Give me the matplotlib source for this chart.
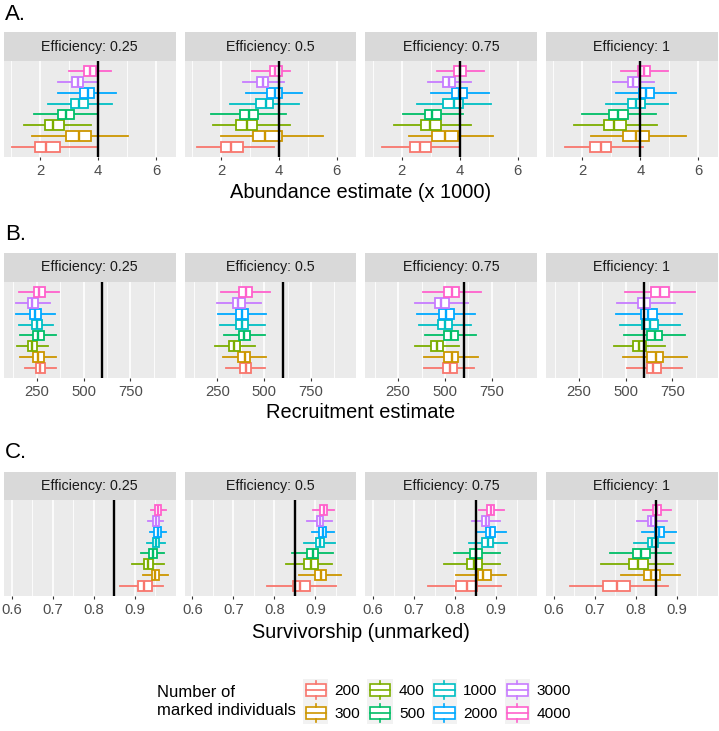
import matplotlib
matplotlib.use("Agg")
import matplotlib.pyplot as plt
from matplotlib.legend_handler import HandlerBase
from matplotlib.patches import Rectangle
from matplotlib.lines import Line2D

plt.rcParams['font.family'] = ['Liberation Sans', 'DejaVu Sans']

# marked individuals, bottom to top in each panel
groups = ["200", "300", "400", "500", "1000", "2000", "3000", "4000"]
colors = ["#F8766D", "#CD9600", "#7CAE00", "#00BE67", "#00BFC4", "#00A9FF", "#C77CFF", "#FF61CC"]
efficiency = ["0.25", "0.5", "0.75", "1"]

# A. abundance estimate (x 1000), one list per efficiency
abund_lo = [[1.02, 1.71, 1.45, 1.77, 2.27, 2.60, 2.60, 2.98],
            [1.17, 2.01, 1.72, 1.67, 2.32, 2.87, 2.76, 3.07],
            [1.33, 2.25, 1.73, 2.06, 2.52, 3.02, 2.90, 3.21],
            [1.39, 2.31, 1.70, 2.00, 2.81, 3.15, 3.04, 3.32]]
abund_q1 = [[1.80, 2.89, 2.17, 2.60, 3.07, 3.36, 3.10, 3.50],
            [2.00, 3.11, 2.52, 2.64, 3.20, 3.59, 3.26, 3.68],
            [2.29, 3.06, 2.66, 2.81, 3.44, 3.73, 3.44, 3.82],
            [2.25, 3.39, 2.75, 2.92, 3.59, 3.94, 3.57, 3.92]]
abund_med = [[2.21, 3.33, 2.44, 2.87, 3.35, 3.64, 3.29, 3.71],
             [2.36, 3.53, 2.90, 2.96, 3.55, 3.85, 3.45, 3.87],
             [2.63, 3.48, 2.98, 3.06, 3.79, 3.98, 3.64, 4.02],
             [2.63, 3.84, 3.10, 3.24, 3.85, 4.20, 3.76, 4.11]]
abund_q3 = [[2.67, 3.75, 2.81, 3.15, 3.64, 3.87, 3.46, 3.93],
            [2.75, 4.11, 3.26, 3.28, 3.81, 4.11, 3.62, 4.11],
            [3.00, 3.93, 3.36, 3.35, 4.11, 4.25, 3.85, 4.23],
            [3.00, 4.29, 3.51, 3.57, 4.15, 4.46, 3.94, 4.35]]
abund_hi = [[3.94, 5.03, 3.75, 4.00, 4.46, 4.62, 3.98, 4.45],
            [3.84, 5.52, 4.39, 4.25, 4.71, 4.79, 4.16, 4.37],
            [4.00, 5.15, 4.40, 4.10, 5.08, 5.00, 4.39, 4.83],
            [4.08, 5.58, 4.58, 4.55, 4.94, 5.24, 4.48, 4.94]]

# B. recruitment estimate
recr_lo = [[187, 161, 143, 161, 157, 137, 139, 157],
           [298, 280, 236, 285, 262, 254, 250, 268],
           [389, 389, 341, 392, 362, 353, 341, 380],
           [505, 487, 437, 491, 470, 446, 452, 496]]
recr_q1 = [[245, 232, 202, 232, 223, 214, 205, 237],
           [371, 362, 312, 365, 347, 347, 333, 365],
           [490, 496, 428, 496, 464, 469, 447, 496],
           [614, 614, 539, 616, 589, 580, 568, 634]]
recr_med = [[268, 259, 223, 259, 250, 241, 227, 264],
            [401, 395, 339, 392, 379, 379, 360, 401],
            [526, 535, 456, 531, 499, 504, 478, 536],
            [648, 661, 571, 655, 630, 621, 598, 682]]
recr_q3 = [[295, 286, 250, 286, 277, 271, 254, 295],
           [427, 424, 371, 422, 413, 415, 397, 432],
           [562, 572, 487, 567, 535, 549, 519, 576],
           [689, 702, 607, 696, 670, 666, 629, 732]]
recr_hi = [[352, 354, 312, 352, 339, 345, 321, 371],
           [505, 507, 450, 503, 502, 511, 484, 530],
           [656, 679, 576, 668, 641, 661, 625, 691],
           [800, 827, 711, 818, 791, 800, 764, 870]]

# C. survivorship (unmarked)
surv_lo = [[0.864, 0.921, 0.894, 0.915, 0.929, 0.937, 0.932, 0.939],
           [0.783, 0.861, 0.829, 0.844, 0.873, 0.891, 0.880, 0.895],
           [0.734, 0.803, 0.773, 0.796, 0.834, 0.853, 0.841, 0.857],
           [0.639, 0.763, 0.716, 0.738, 0.795, 0.814, 0.803, 0.817]]
surv_q1 = [[0.909, 0.941, 0.923, 0.936, 0.945, 0.948, 0.944, 0.950],
           [0.845, 0.899, 0.873, 0.880, 0.901, 0.909, 0.903, 0.911],
           [0.802, 0.855, 0.829, 0.836, 0.865, 0.875, 0.865, 0.877],
           [0.720, 0.820, 0.783, 0.793, 0.830, 0.846, 0.829, 0.842]]
surv_med = [[0.923, 0.950, 0.933, 0.944, 0.952, 0.956, 0.951, 0.956],
            [0.863, 0.913, 0.889, 0.894, 0.911, 0.918, 0.910, 0.920],
            [0.829, 0.867, 0.845, 0.850, 0.879, 0.885, 0.875, 0.887],
            [0.755, 0.836, 0.805, 0.813, 0.840, 0.856, 0.838, 0.852]]
surv_q3 = [[0.941, 0.960, 0.945, 0.954, 0.959, 0.963, 0.959, 0.963],
           [0.887, 0.926, 0.906, 0.907, 0.921, 0.926, 0.918, 0.928],
           [0.853, 0.887, 0.865, 0.865, 0.893, 0.897, 0.883, 0.895],
           [0.785, 0.860, 0.829, 0.834, 0.854, 0.868, 0.846, 0.862]]
surv_hi = [[0.970, 0.980, 0.972, 0.972, 0.974, 0.976, 0.970, 0.976],
           [0.950, 0.962, 0.941, 0.944, 0.948, 0.946, 0.940, 0.946],
           [0.911, 0.924, 0.910, 0.909, 0.926, 0.924, 0.910, 0.920],
           [0.878, 0.907, 0.891, 0.887, 0.893, 0.898, 0.875, 0.887]]

# true values (black lines)
abund_true = 4
recr_true = 600
surv_true = 0.85

W, H = 719, 731
fig = plt.figure(figsize=(W / 100, H / 100), dpi=100)


def px(x0, y0, x1, y1):
    return [x0 / W, 1 - y1 / H, (x1 - x0) / W, (y1 - y0) / H]


rows = [
    dict(letter="A.", ly=15, strip=32, top=61, bot=157, ty=192, title="Abundance estimate (x 1000)",
         stats=(abund_lo, abund_q1, abund_med, abund_q3, abund_hi), truth=abund_true,
         xlim=(0.745, 6.67), major=[2, 4, 6], minor=[1, 3, 5], fmt="{:g}"),
    dict(letter="B.", ly=235, strip=253, top=282, bot=378, ty=412, title="Recruitment estimate",
         stats=(recr_lo, recr_q1, recr_med, recr_q3, recr_hi), truth=recr_true,
         xlim=(75, 991), major=[250, 500, 750], minor=[125, 375, 625, 875], fmt="{:g}"),
    dict(letter="C.", ly=453, strip=472, top=500, bot=596, ty=633, title="Survivorship (unmarked)",
         stats=(surv_lo, surv_q1, surv_med, surv_q3, surv_hi), truth=surv_true,
         xlim=(0.581, 0.9995), major=[0.6, 0.7, 0.8, 0.9], minor=[0.65, 0.75, 0.85, 0.95], fmt="{:.1f}"),
]

panel_w = 171.5
panel_x = [4 + 180.7 * i for i in range(4)]

for r in rows:
    fig.text(5 / W, 1 - r["ly"] / H, r["letter"], fontsize=16, ha="left", va="center")
    lo, q1, med, q3, hi = r["stats"]
    for j, x0 in enumerate(panel_x):
        sax = fig.add_axes(px(x0, r["strip"], x0 + panel_w, r["top"]))
        sax.set_facecolor("#D9D9D9")
        sax.set_xticks([])
        sax.set_yticks([])
        for s in sax.spines.values():
            s.set_visible(False)
        sax.text(0.5, 0.5, "Efficiency: " + efficiency[j], transform=sax.transAxes,
                 ha="center", va="center", fontsize=10.3, color="#1A1A1A")

        ax = fig.add_axes(px(x0, r["top"], x0 + panel_w, r["bot"]))
        ax.set_facecolor("#EBEBEB")
        for s in ax.spines.values():
            s.set_visible(False)

        st = [dict(whislo=lo[j][k], q1=q1[j][k], med=med[j][k], q3=q3[j][k], whishi=hi[j][k])
              for k in range(len(groups))]
        bp = ax.bxp(st, positions=range(1, len(groups) + 1), widths=0.9, orientation="horizontal",
                    showfliers=False, showcaps=False, patch_artist=True, manage_ticks=False)
        for k, c in enumerate(colors):
            bp["boxes"][k].set(facecolor="white", edgecolor=c, lw=1.3, zorder=3)
            bp["medians"][k].set(color=c, lw=1.7, zorder=4)
            for wl in bp["whiskers"][2 * k:2 * k + 2]:
                wl.set(color=c, lw=1.3, zorder=2)
        ax.axvline(r["truth"], color="black", lw=1.7, zorder=5)

        ax.set_xlim(*r["xlim"])
        ax.set_ylim(0.1, 8.9)
        ax.set_xticks(r["major"])
        ax.set_xticklabels([r["fmt"].format(v) for v in r["major"]])
        ax.set_xticks(r["minor"], minor=True)
        ax.set_yticks([])
        ax.grid(True, which="major", axis="x", color="white", lw=1.2)
        ax.grid(True, which="minor", axis="x", color="white", lw=0.6)
        ax.set_axisbelow(True)
        ax.tick_params(axis="x", which="major", length=2.5, width=0.8, color="#333333",
                       labelsize=10.7, labelcolor="#4D4D4D", pad=2.5)
        ax.tick_params(axis="x", which="minor", length=0)

    fig.text(361 / W, 1 - r["ty"] / H, r["title"], fontsize=14.4, ha="center", va="center")


class BoxKey(HandlerBase):
    def create_artists(self, legend, orig_handle, xdescent, ydescent, width, height, fontsize, trans):
        c = orig_handle.get_color()
        x0, y0 = -xdescent, -ydescent
        bg = Rectangle((x0, y0), width, height, fc="#F2F2F2", ec="none", transform=trans)
        box = Rectangle((x0 + 0.1 * width, y0 + 0.25 * height), 0.8 * width, 0.5 * height,
                        fc="white", ec=c, lw=1.2, transform=trans)
        mid = Line2D([x0 + 0.1 * width, x0 + 0.9 * width], [y0 + 0.5 * height] * 2,
                     color=c, lw=1.2, transform=trans)
        w1 = Line2D([x0 + 0.5 * width] * 2, [y0 + 0.1 * height, y0 + 0.25 * height],
                    color=c, lw=1.2, transform=trans)
        w2 = Line2D([x0 + 0.5 * width] * 2, [y0 + 0.75 * height, y0 + 0.9 * height],
                    color=c, lw=1.2, transform=trans)
        return [bg, box, mid, w1, w2]


handles = [Line2D([], [], color=c) for c in colors]
fig.legend(handles, groups, handler_map={Line2D: BoxKey()}, loc="center left",
           bbox_to_anchor=(303 / W, 1 - 701.5 / H), ncol=4, frameon=False, fontsize=11.1,
           handlelength=1.65, handleheight=1.9, labelspacing=0, handletextpad=0.4,
           columnspacing=0.45, borderpad=0, borderaxespad=0)
fig.text(157 / W, 1 - 701.5 / H, "Number of\nmarked individuals", fontsize=12, ha="left",
         va="center", linespacing=1.2)

fig.savefig("out.png", dpi=100, facecolor="white")
